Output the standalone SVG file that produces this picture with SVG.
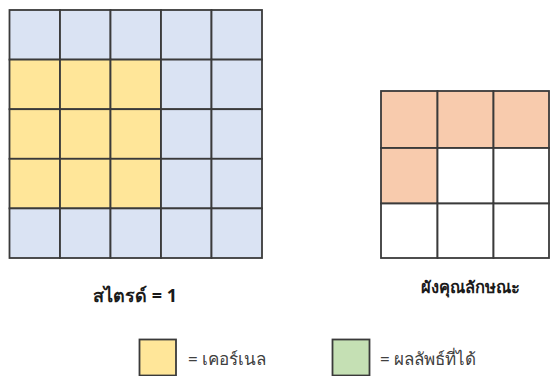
<svg xmlns="http://www.w3.org/2000/svg" width="552" height="376" viewBox="0 0 552 376">
<style>
.c{stroke:#3a3a3a;stroke-width:1.8}
.b{fill:#DAE3F3}.y{fill:#FFE699}.o{fill:#F8CBAD}.w{fill:#FFFFFF}.g{fill:#C5E0B4}
.t{font-family:"Noto Sans","Liberation Sans",sans-serif;fill:#1a1a1a}
.h{font-size:18px;font-weight:bold}
.l{font-size:17px;fill:#404040}
</style>
<rect width="552" height="376" fill="#ffffff"/>
<g id="input-grid">
<rect class="c b" x="9.5" y="10" width="50.5" height="49.6"/>
<rect class="c b" x="60" y="10" width="50.5" height="49.6"/>
<rect class="c b" x="110.5" y="10" width="50.5" height="49.6"/>
<rect class="c b" x="161" y="10" width="50.5" height="49.6"/>
<rect class="c b" x="211.5" y="10" width="50.5" height="49.6"/>
<rect class="c y" x="9.5" y="59.6" width="50.5" height="49.6"/>
<rect class="c y" x="60" y="59.6" width="50.5" height="49.6"/>
<rect class="c y" x="110.5" y="59.6" width="50.5" height="49.6"/>
<rect class="c b" x="161" y="59.6" width="50.5" height="49.6"/>
<rect class="c b" x="211.5" y="59.6" width="50.5" height="49.6"/>
<rect class="c y" x="9.5" y="109.2" width="50.5" height="49.6"/>
<rect class="c y" x="60" y="109.2" width="50.5" height="49.6"/>
<rect class="c y" x="110.5" y="109.2" width="50.5" height="49.6"/>
<rect class="c b" x="161" y="109.2" width="50.5" height="49.6"/>
<rect class="c b" x="211.5" y="109.2" width="50.5" height="49.6"/>
<rect class="c y" x="9.5" y="158.8" width="50.5" height="49.6"/>
<rect class="c y" x="60" y="158.8" width="50.5" height="49.6"/>
<rect class="c y" x="110.5" y="158.8" width="50.5" height="49.6"/>
<rect class="c b" x="161" y="158.8" width="50.5" height="49.6"/>
<rect class="c b" x="211.5" y="158.8" width="50.5" height="49.6"/>
<rect class="c b" x="9.5" y="208.4" width="50.5" height="49.6"/>
<rect class="c b" x="60" y="208.4" width="50.5" height="49.6"/>
<rect class="c b" x="110.5" y="208.4" width="50.5" height="49.6"/>
<rect class="c b" x="161" y="208.4" width="50.5" height="49.6"/>
<rect class="c b" x="211.5" y="208.4" width="50.5" height="49.6"/>
</g>
<g id="feature-map">
<rect class="c o" x="381" y="91" width="56.5" height="57"/>
<rect class="c o" x="437.5" y="91" width="56" height="57"/>
<rect class="c o" x="493.5" y="91" width="55.5" height="57"/>
<rect class="c o" x="381" y="148" width="56.5" height="55.5"/>
<rect class="c w" x="437.5" y="148" width="56" height="55.5"/>
<rect class="c w" x="493.5" y="148" width="55.5" height="55.5"/>
<rect class="c w" x="381" y="203.5" width="56.5" height="54.5"/>
<rect class="c w" x="437.5" y="203.5" width="56" height="54.5"/>
<rect class="c w" x="493.5" y="203.5" width="55.5" height="54.5"/>
</g>
<g id="labels">
<text class="t h" x="135" y="302" text-anchor="middle">สไตรด์ = 1</text>
<text class="t h" x="470" y="293" text-anchor="middle" style="font-size:16.5px">ผังคุณลักษณะ</text>
</g>
<g id="legend-kernel">
<rect class="c y" x="139.5" y="339.5" width="36.5" height="36"/>
<text class="t l" x="188" y="365">= เคอร์เนล</text>
</g>
<g id="legend-output">
<rect class="c g" x="332.5" y="339.5" width="37" height="36"/>
<text class="t l" x="380" y="365">= ผลลัพธ์ที่ได้</text>
</g>
</svg>
